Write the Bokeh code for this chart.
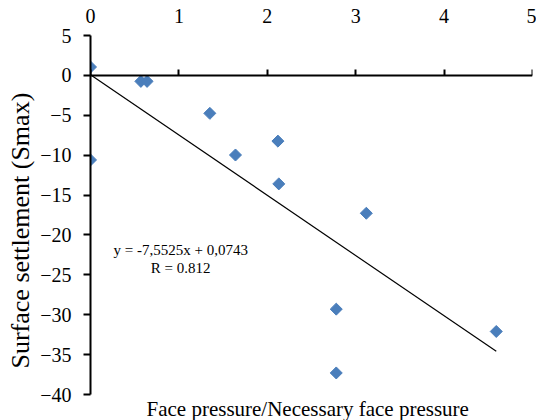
import math
from bokeh.plotting import figure
from bokeh.models import LinearAxis, FixedTicker, Range1d, Label, Title, ColumnDataSource
from bokeh.embed import file_html
from bokeh.resources import INLINE

# data
ratio = [0.0, 0.0, 0.57, 0.64, 1.35, 1.64, 2.12, 2.13, 3.12, 2.78, 2.78, 4.59]
settlement = [1.05, -10.6, -0.75, -0.75, -4.76, -9.98, -8.24, -13.6, -17.28, -29.3, -37.3, -32.1]
slope = -7.5525
intercept = 0.0743
eq_text = "y = -7,5525x + 0,0743"
r_text = "R = 0.812"
x_title = "Face pressure/Necessary face pressure"
y_title = "Surface settlement (Smax)"
x_ticks = [0, 1, 2, 3, 4, 5]
y_ticks = [5, 0, -5, -10, -15, -20, -25, -30, -35, -40]

FONT = "Liberation Serif"
BLUE = "#4A7EBB"

p = figure(width=536, height=420, output_backend="svg", toolbar_location=None,
           x_range=Range1d(0, 5), y_range=Range1d(-40, 5),
           x_axis_location=None, y_axis_location=None,
           min_border_left=88, min_border_right=4, min_border_top=35, min_border_bottom=23)
p.outline_line_color = None
p.grid.visible = False
p.background_fill_color = "white"

# left y axis
ya = LinearAxis(ticker=FixedTicker(ticks=y_ticks))
ya.axis_line_width = 2
ya.axis_line_color = "black"
ya.major_tick_line_width = 2
ya.major_tick_out = 7
ya.major_tick_in = 0
ya.minor_tick_line_color = None
ya.major_label_text_font = FONT
ya.major_label_text_font_size = "20px"
ya.major_label_text_color = "black"
ya.major_label_standoff = 12
p.add_layout(ya, "left")
p.add_layout(Title(text=y_title, align="left", offset=26, standoff=6,
                   text_font=FONT, text_font_size="26px", text_font_style="normal",
                   text_color="black"), "left")

# top tick labels
xa_top = LinearAxis(ticker=FixedTicker(ticks=x_ticks))
xa_top.axis_line_color = None
xa_top.major_tick_line_color = None
xa_top.minor_tick_line_color = None
xa_top.major_label_text_font = FONT
xa_top.major_label_text_font_size = "20px"
xa_top.major_label_text_color = "black"
xa_top.major_label_standoff = 7
p.add_layout(xa_top, "above")

# axis line at y = 0 with upward ticks
xa0 = LinearAxis(ticker=FixedTicker(ticks=x_ticks), fixed_location=0)
xa0.axis_line_width = 2
xa0.axis_line_color = "black"
xa0.major_tick_line_width = 2
xa0.major_tick_in = 0
xa0.major_tick_out = 6
xa0.minor_tick_line_color = None
xa0.major_label_text_alpha = 0
xa0.major_label_text_font_size = "0px"
xa0.major_label_standoff = 0
p.add_layout(xa0, "above")

# x axis title under the frame
p.add_layout(Title(text=x_title, align="left", offset=56, standoff=0,
                   text_font=FONT, text_font_size="21px", text_font_style="normal",
                   text_color="black"), "below")

# trend line
xmax = max(ratio)
src_line = ColumnDataSource(dict(x=[0, xmax], y=[intercept, slope * xmax + intercept]))
p.line("x", "y", source=src_line, line_color="black", line_width=1.2)

src = ColumnDataSource(dict(x=ratio, y=settlement))
p.scatter("x", "y", source=src, marker="square", size=8.5, angle=math.pi / 4,
          fill_color=BLUE, line_color=BLUE)

p.add_layout(Label(x=1.02, y=-21.9, text=eq_text, text_align="center", text_baseline="middle",
                   text_font=FONT, text_font_size="15px", text_color="black"))
p.add_layout(Label(x=1.02, y=-24.1, text=r_text, text_align="center", text_baseline="middle",
                   text_font=FONT, text_font_size="15px", text_color="black"))

open("out.html", "w").write(file_html(p, INLINE))
